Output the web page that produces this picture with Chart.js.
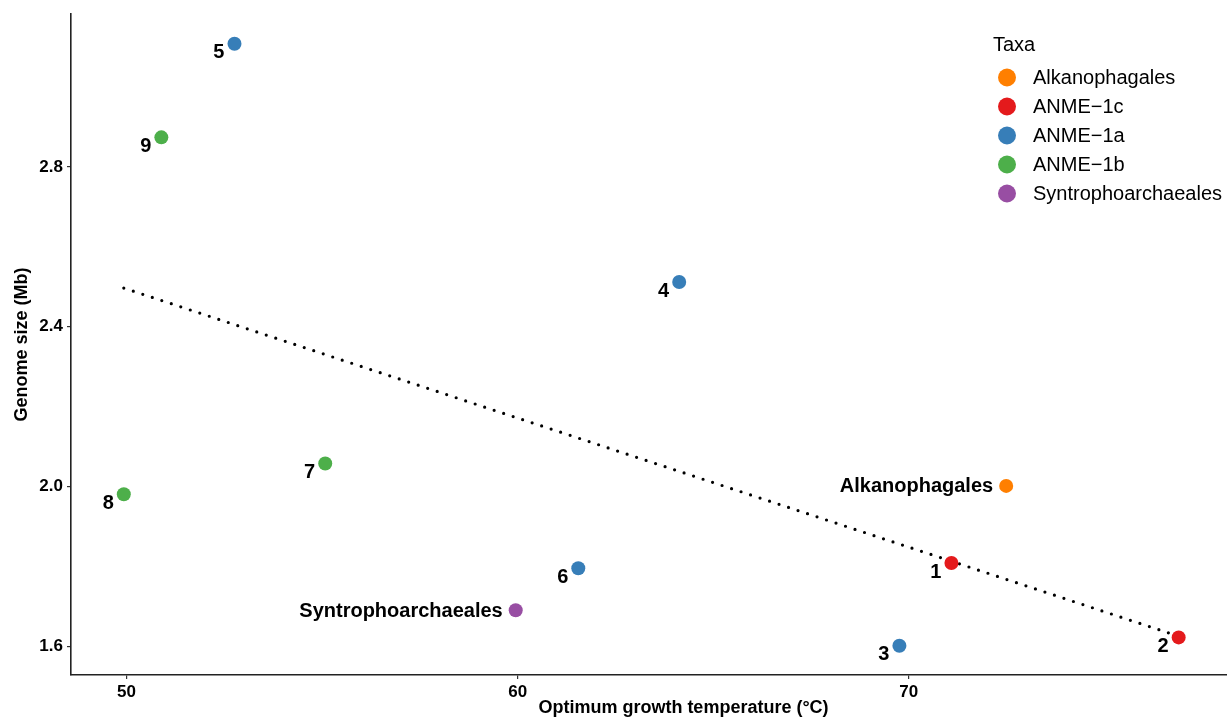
<!DOCTYPE html>
<html>
<head>
<meta charset="utf-8">
<script src="https://cdn.jsdelivr.net/npm/chart.js@4/dist/chart.umd.min.js"></script>
<style>
html,body{margin:0;padding:0;background:#fff;overflow:hidden;}
#wrap{width:1303px;height:717px;}
</style>
</head>
<body>
<div id="wrap"><canvas id="c" width="1303" height="717"></canvas></div>
<script>
// ---- data ----
const taxa = ['Alkanophagales', 'ANME\u22121c', 'ANME\u22121a', 'ANME\u22121b', 'Syntrophoarchaeales'];
const taxaColors = ['#FF7F00', '#E41A1C', '#377EB8', '#4DAF4A', '#984EA3'];
const pointLabels = ['Alkanophagales', '1', '2', '3', '4', '5', '6', '7', '8', '9', 'Syntrophoarchaeales'];
const pointTaxon = [0, 1, 1, 2, 2, 2, 2, 3, 3, 3, 4];
const optTemp = [72.49, 71.09, 76.90, 69.76, 64.13, 52.76, 61.55, 55.08, 49.93, 50.89, 59.95];
const genomeSize = [2.002, 1.809, 1.623, 1.602, 2.512, 3.108, 1.796, 2.058, 1.981, 2.874, 1.691];
const trendTemp = [49.93, 76.90];
const trendSize = [2.497, 1.626];
const xTicks = [50, 60, 70];
const yTicks = [1.6, 2.0, 2.4, 2.8];

const FONT = '"Liberation Sans", Arial, sans-serif';

const datasets = taxa.map((t, ti) => ({
  type: 'scatter',
  label: t,
  data: optTemp.map((x, i) => ({x: x, y: genomeSize[i], lab: pointLabels[i], tx: pointTaxon[i]}))
               .filter(p => p.tx === ti),
  backgroundColor: taxaColors[ti],
  borderColor: taxaColors[ti],
  borderWidth: 0,
  pointRadius: 7,
  pointHoverRadius: 7,
  order: 0
}));
datasets.push({
  type: 'line',
  label: 'trend',
  data: trendTemp.map((x, i) => ({x: x, y: trendSize[i]})),
  borderColor: '#000',
  borderWidth: 3.2,
  borderDash: [0, 10],
  borderCapStyle: 'round',
  pointRadius: 0,
  fill: false,
  order: 10
});

const labelPlugin = {
  id: 'labels',
  afterDatasetsDraw(chart) {
    const ctx = chart.ctx;
    const xs = chart.scales.x, ys = chart.scales.y;
    ctx.save();
    ctx.fillStyle = '#000';
    ctx.textAlign = 'right';
    ctx.textBaseline = 'middle';
    ctx.font = 'bold 20px ' + FONT;
    for (let i = 0; i < optTemp.length; i++) {
      const px = xs.getPixelForValue(optTemp[i]);
      const py = ys.getPixelForValue(genomeSize[i]);
      const lab = pointLabels[i];
      if (lab.length > 2) {
        ctx.fillText(lab, px - 13, py + 1);
      } else {
        ctx.fillText(lab, px - 10, py + 9);
      }
    }
    // legend
    ctx.textAlign = 'left';
    ctx.font = '20px ' + FONT;
    ctx.fillStyle = '#000';
    ctx.fillText('Taxa', 993, 45);
    for (let k = 0; k < taxa.length; k++) {
      const y = 77.5 + k * 29;
      ctx.beginPath();
      ctx.arc(1007, y, 9, 0, Math.PI * 2);
      ctx.fillStyle = taxaColors[k];
      ctx.fill();
      ctx.fillStyle = '#000';
      ctx.fillText(taxa[k], 1033, y + 1);
    }
    ctx.restore();
  }
};

new Chart(document.getElementById('c'), {
  data: {datasets: datasets},
  options: {
    responsive: false,
    animation: false,
    layout: {padding: {left: 0, top: 14, right: 1, bottom: 0}},
    plugins: {legend: {display: false}, tooltip: {enabled: false}},
    scales: {
      x: {
        type: 'linear',
        min: 48.58, max: 79.9,
        afterBuildTicks: s => { s.ticks = xTicks.map(v => ({value: v})); },
        afterFit: s => { s.height = 42; },
        grid: {drawOnChartArea: false, drawTicks: true, tickLength: 4, color: '#333', lineWidth: 1.2},
        border: {display: true, color: '#222', width: 1.6},
        ticks: {color: '#000', font: {family: FONT, size: 17, weight: 'bold'}, padding: 3,
                callback: v => String(v)},
        title: {display: true, text: 'Optimum growth temperature (\u00B0C)', color: '#000',
                font: {family: FONT, size: 18, weight: 'bold', lineHeight: 1}, padding: {top: 0, bottom: 0}}
      },
      y: {
        type: 'linear',
        min: 1.529, max: 3.182,
        afterBuildTicks: s => { s.ticks = yTicks.map(v => ({value: v})); },
        afterFit: s => { s.width = 71; },
        grid: {drawOnChartArea: false, drawTicks: true, tickLength: 4, color: '#333', lineWidth: 1.2},
        border: {display: true, color: '#222', width: 1.6},
        ticks: {color: '#000', font: {family: FONT, size: 17, weight: 'bold'}, padding: 4,
                callback: v => v.toFixed(1)},
        title: {display: true, text: 'Genome size (Mb)', color: '#000',
                font: {family: FONT, size: 18, weight: 'bold'}, padding: {top: 11, bottom: 0}}
      }
    }
  },
  plugins: [labelPlugin]
});
</script>
</body>
</html>
